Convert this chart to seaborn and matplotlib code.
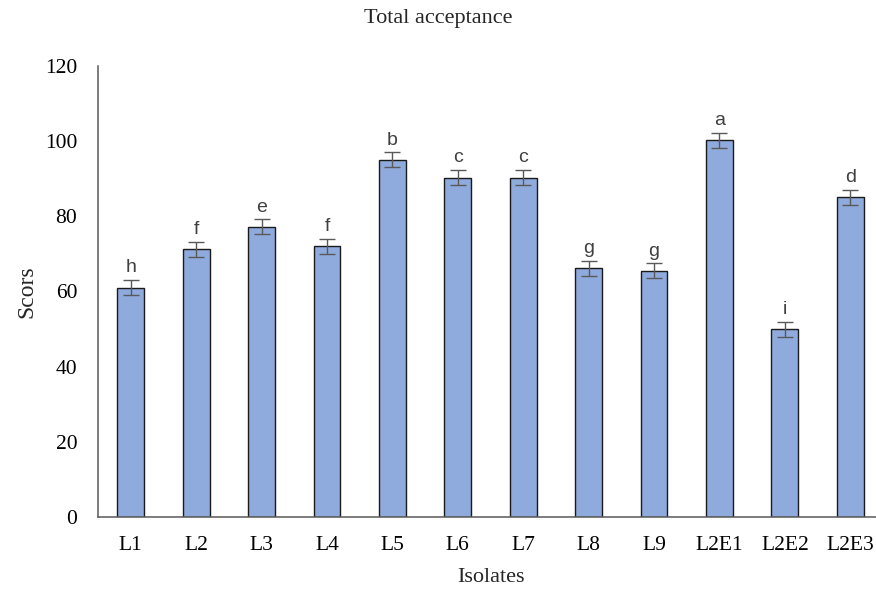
import matplotlib
matplotlib.use("Agg")
import matplotlib.pyplot as plt
import seaborn as sns
import pandas as pd

# Sensory scores per isolate
isolates = ["L1", "L2", "L3", "L4", "L5", "L6", "L7", "L8", "L9", "L2E1", "L2E2", "L2E3"]
scores = [61, 71.2, 77.2, 72, 95, 90.3, 90.3, 66.2, 65.5, 100.2, 50, 85.1]
errors = [2, 2, 2, 2, 2, 2, 2, 2, 2, 2, 2, 2]
letters = ["h", "f", "e", "f", "b", "c", "c", "g", "g", "a", "i", "d"]

df = pd.DataFrame({"Isolates": isolates, "Scors": scores})

sns.set_theme(style="white")
plt.rcParams["font.family"] = ["Liberation Serif", "DejaVu Serif"]

W, H = 876, 590
fig = plt.figure(figsize=(W / 100, H / 100), dpi=100)
ax = fig.add_axes([98 / W, (H - 517) / H, 785 / W, (517 - 66) / H])

sns.barplot(data=df, x="Isolates", y="Scors", color="#8FAADC", saturation=1,
            width=0.41, edgecolor="#1a1a1a", linewidth=1.0, ax=ax, errorbar=None)

ax.errorbar(range(len(isolates)), scores, yerr=errors, fmt="none",
            ecolor="#595959", elinewidth=1.0, capsize=6, capthick=1.0)

for i, (v, e, t) in enumerate(zip(scores, errors, letters)):
    ax.text(i, v + e + 1.0, t, ha="center", va="bottom", fontsize=14,
            color="#404040", family=["Liberation Sans", "DejaVu Sans"])

ax.set_xlim(-0.5, 11.5)
ax.set_ylim(0, 120)
ax.set_yticks(range(0, 121, 20))
ax.tick_params(axis="both", length=0, labelsize=15.5, colors="#000000")
ax.tick_params(axis="x", pad=14)
ax.tick_params(axis="y", pad=15)

for s in ["top", "right"]:
    ax.spines[s].set_visible(False)
for s in ["left", "bottom"]:
    ax.spines[s].set_color("#595959")
    ax.spines[s].set_linewidth(1.1)

ax.set_xlabel("Isolates", fontsize=16, labelpad=9)
ax.set_ylabel("Scors", fontsize=17, labelpad=5)
fig.text(438 / W, 1 - 18 / H, "Total acceptance", ha="center", va="center", fontsize=16)

fig.savefig("out.png", dpi=100)
